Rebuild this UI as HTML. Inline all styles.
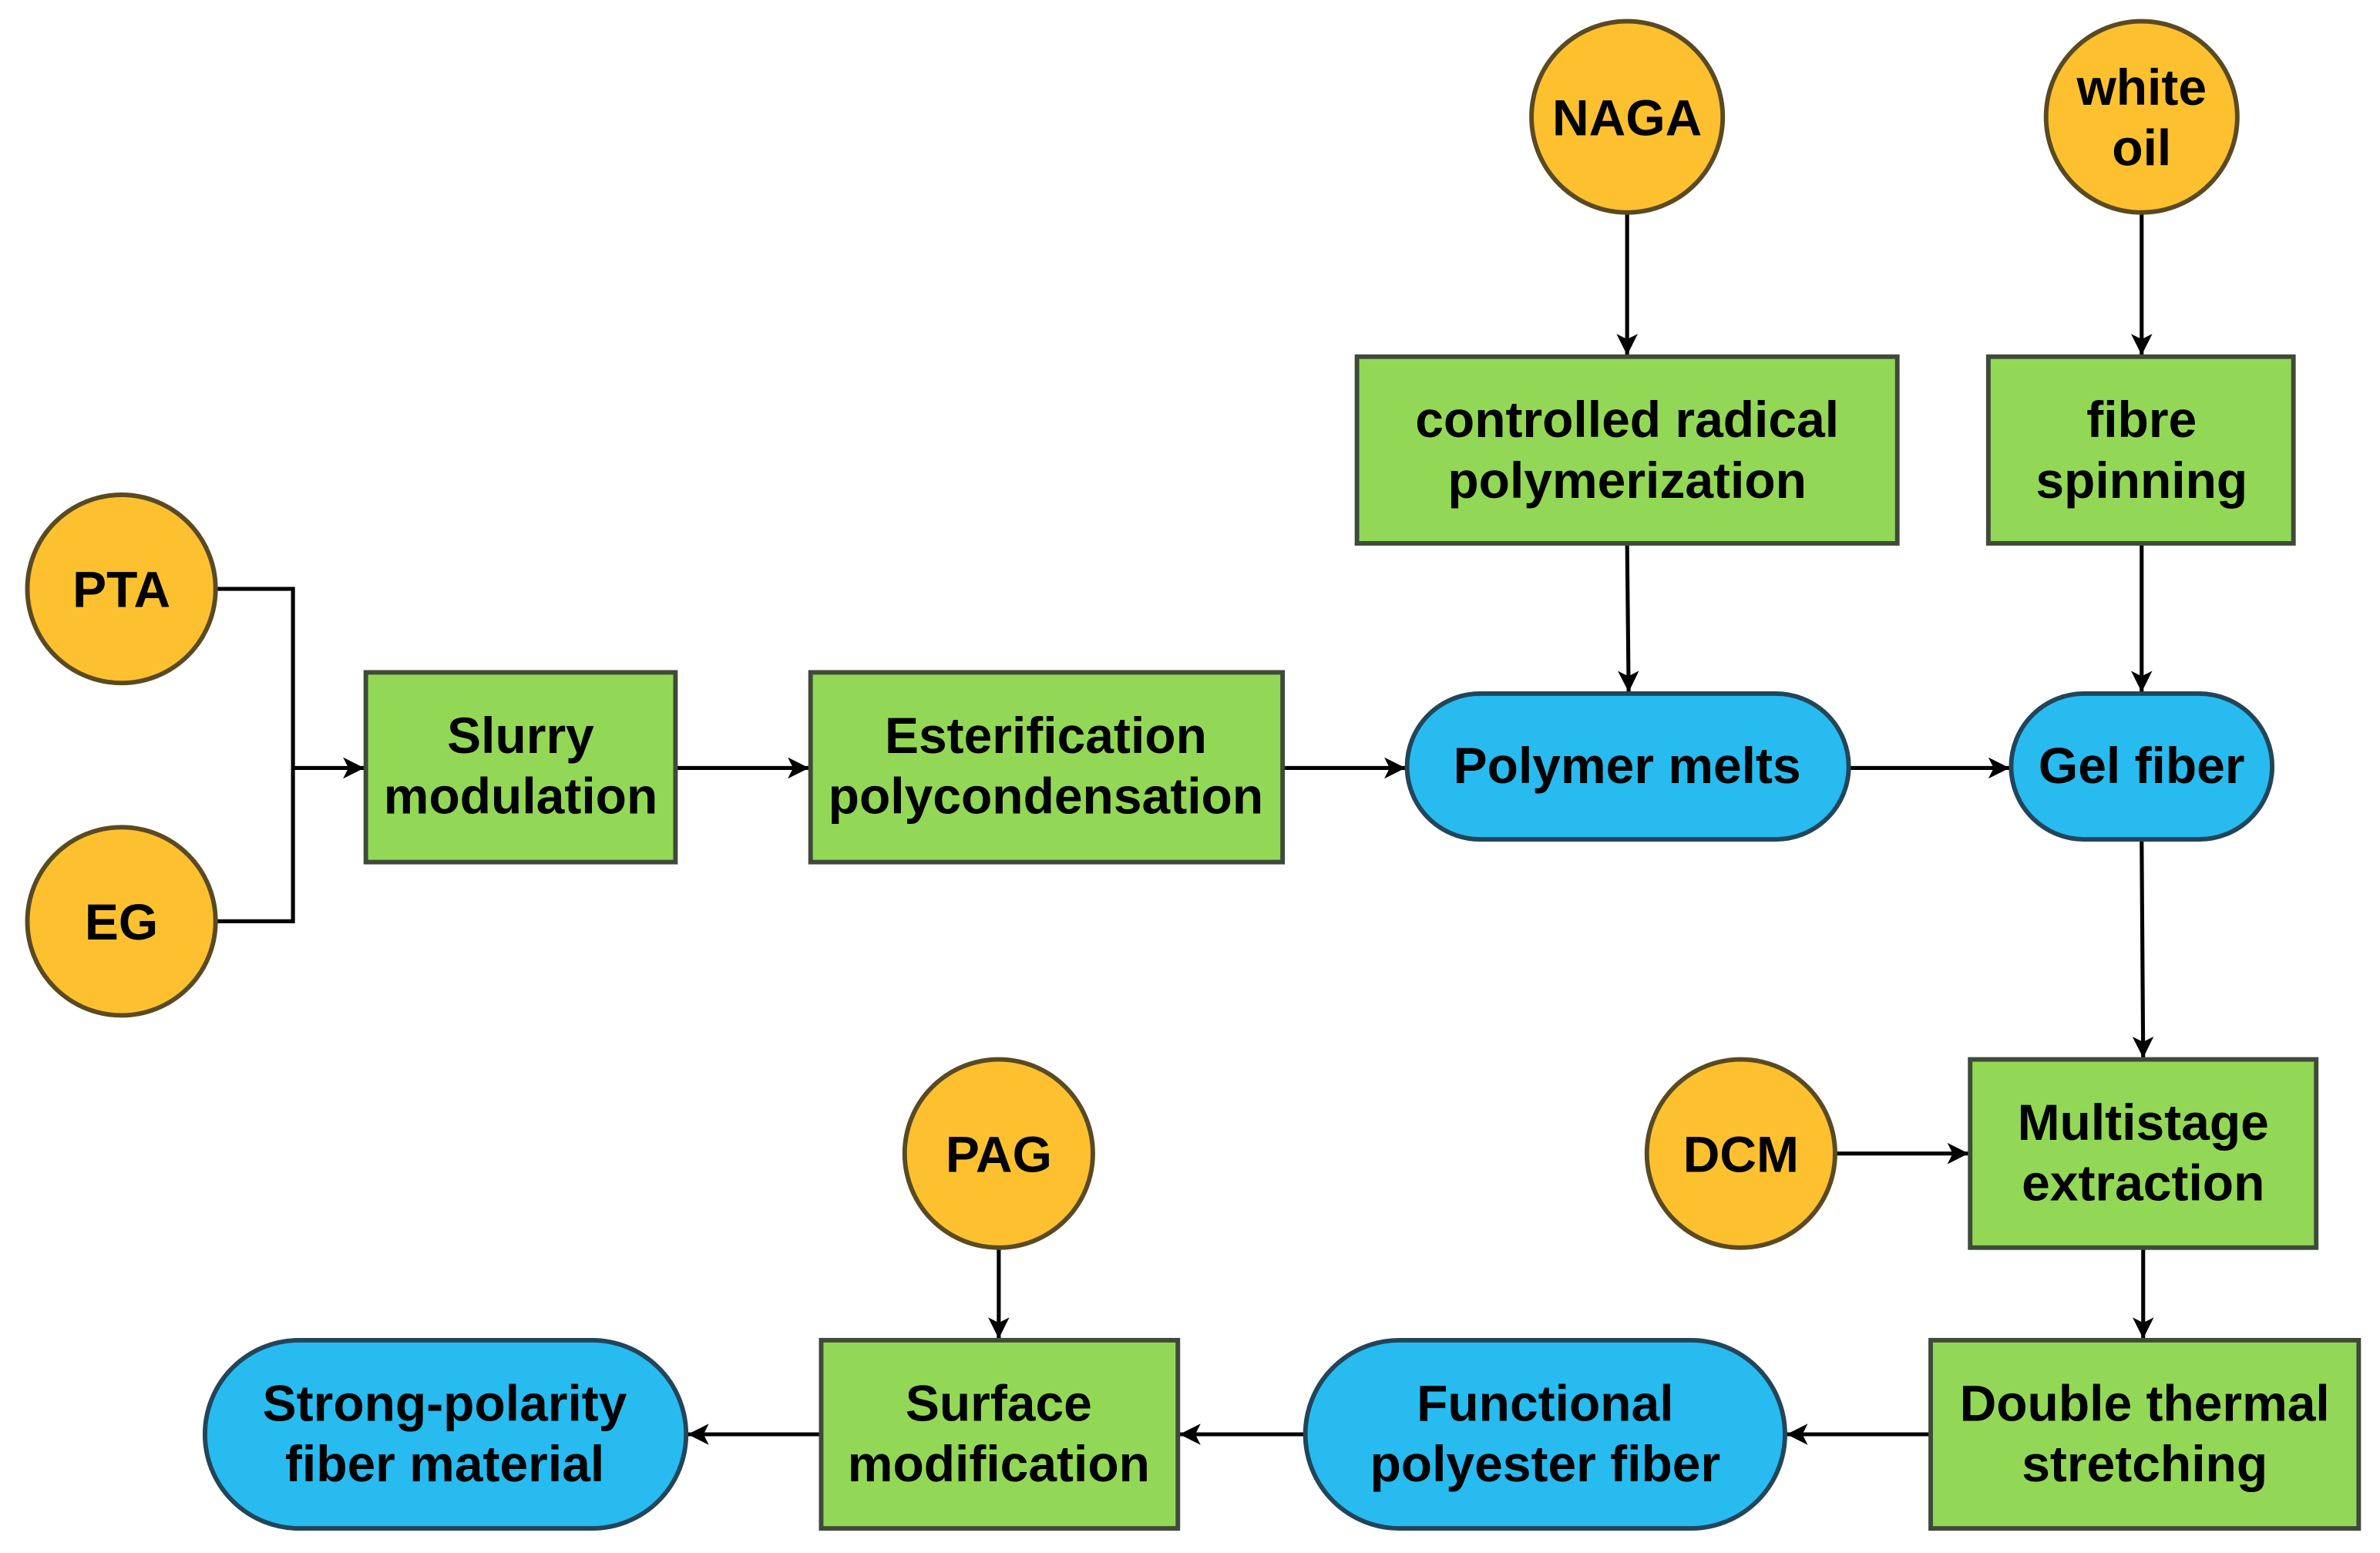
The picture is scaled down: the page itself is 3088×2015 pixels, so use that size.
<!DOCTYPE html>
<html><head><meta charset="utf-8"><style>
html,body{margin:0;padding:0;background:#fff;}
svg{display:block;}
text{font-family:"Liberation Sans",Arial,sans-serif;font-weight:bold;font-size:33.5px;fill:#000;text-anchor:middle;}
</style></head><body>
<svg width="3088" height="2015" viewBox="0 0 1568 1023.2" xmlns="http://www.w3.org/2000/svg">
<defs>
<marker id="a" viewBox="0 0 14 14" refX="14" refY="7" markerWidth="14" markerHeight="14" markerUnits="userSpaceOnUse" orient="auto">
<path d="M0,0 L14,7 L0,14 L3.5,7 Z" fill="#000"/>
</marker>
</defs>
<rect width="1568" height="1024" fill="#fff"/>
<g stroke="#000" stroke-width="2.6" fill="none">
<polyline points="143,388 193,388 193,607 143,607"/>
<line x1="193" y1="506" x2="240" y2="506" marker-end="url(#a)"/>
<line x1="446" y1="506" x2="533" y2="506" marker-end="url(#a)"/>
<line x1="846" y1="506" x2="926" y2="506" marker-end="url(#a)"/>
<line x1="1219" y1="506" x2="1324" y2="506" marker-end="url(#a)"/>
<line x1="1072" y1="140" x2="1072" y2="234" marker-end="url(#a)"/>
<line x1="1411" y1="140" x2="1411" y2="234" marker-end="url(#a)"/>
<line x1="1072" y1="359" x2="1073" y2="456" marker-end="url(#a)"/>
<line x1="1411" y1="359" x2="1411" y2="456" marker-end="url(#a)"/>
<line x1="1411" y1="554" x2="1412" y2="697" marker-end="url(#a)"/>
<line x1="1210" y1="760" x2="1297" y2="760" marker-end="url(#a)"/>
<line x1="1412" y1="823" x2="1412" y2="882" marker-end="url(#a)"/>
<line x1="1271" y1="945" x2="1177" y2="945" marker-end="url(#a)"/>
<line x1="859" y1="945" x2="777" y2="945" marker-end="url(#a)"/>
<line x1="540" y1="945" x2="453" y2="945" marker-end="url(#a)"/>
<line x1="658" y1="822" x2="658" y2="882" marker-end="url(#a)"/>
</g>
<g fill="#FDC12F" stroke="#5a4a22" stroke-width="3">
<ellipse cx="80" cy="388" rx="62" ry="62"/>
<ellipse cx="80" cy="607" rx="62" ry="62"/>
<ellipse cx="1072" cy="77" rx="63" ry="63"/>
<ellipse cx="1411" cy="77" rx="63" ry="63"/>
<ellipse cx="1147" cy="760" rx="62" ry="62"/>
<ellipse cx="658" cy="760" rx="62" ry="62"/>
</g>
<g fill="#92D856" stroke="#3f4a3a" stroke-width="3">
<rect x="241" y="443" width="204" height="125"/>
<rect x="534" y="443" width="311" height="125"/>
<rect x="894" y="235" width="356" height="123"/>
<rect x="1310" y="235" width="201" height="123"/>
<rect x="1298" y="698" width="228" height="124"/>
<rect x="1272" y="883" width="282" height="124"/>
<rect x="541" y="883" width="235" height="124"/>
</g>
<g fill="#27BBEF" stroke="#22455a" stroke-width="3">
<rect x="927" y="457" width="291" height="96" rx="48"/>
<rect x="1325" y="457" width="172" height="96" rx="48"/>
<rect x="860" y="883" width="316" height="124" rx="62"/>
<rect x="135" y="883" width="317" height="124" rx="62"/>
</g>
<text x="80" y="400">PTA</text>
<text x="80" y="619">EG</text>
<text x="1072" y="89">NAGA</text>
<text x="1411" y="69">white</text>
<text x="1411" y="109">oil</text>
<text x="1147" y="772">DCM</text>
<text x="658" y="772">PAG</text>
<text x="343" y="496">Slurry</text>
<text x="343" y="536">modulation</text>
<text x="689" y="496">Esterification</text>
<text x="689" y="536">polycondensation</text>
<text x="1072" y="288">controlled radical</text>
<text x="1072" y="328">polymerization</text>
<text x="1411" y="288">fibre</text>
<text x="1411" y="328">spinning</text>
<text x="1072" y="516">Polymer melts</text>
<text x="1411" y="516">Gel fiber</text>
<text x="1412" y="751">Multistage</text>
<text x="1412" y="791">extraction</text>
<text x="1413" y="936">Double thermal</text>
<text x="1413" y="976">stretching</text>
<text x="1018" y="936">Functional</text>
<text x="1018" y="976">polyester fiber</text>
<text x="658" y="936">Surface</text>
<text x="658" y="976">modification</text>
<text x="293" y="936">Strong-polarity</text>
<text x="293" y="976">fiber material</text>
</svg>
</body></html>
